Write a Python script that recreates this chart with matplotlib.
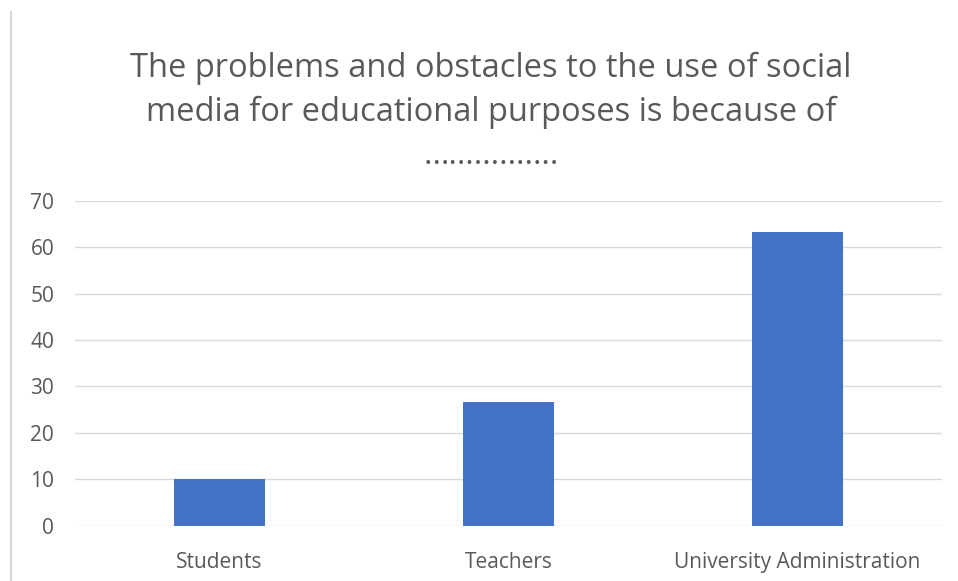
import matplotlib
matplotlib.use("Agg")
import matplotlib.pyplot as plt
from matplotlib.lines import Line2D

categories = ["Students", "Teachers", "University Administration"]
values = [10.0, 26.6, 63.3]
yticks = [0, 10, 20, 30, 40, 50, 60, 70]
title = ("The problems and obstacles to the use of social\n"
         "media for educational purposes is because of\n"
         "\u2026\u2026\u2026\u2026\u2026.")

plt.rcParams["font.family"] = ["Open Sans", "DejaVu Sans"]

fig = plt.figure(figsize=(9.58, 5.81), dpi=100)
ax = fig.add_axes([0.0783, 0.0955, 0.905, 0.5585])

x = list(range(len(categories)))
ax.bar(x, values, width=0.315, color="#4472C4", zorder=3)

ax.set_xlim(-0.5, len(categories) - 0.5)
ax.set_ylim(0, 70)
ax.set_yticks(yticks)
ax.set_xticks(x)
ax.set_xticklabels(categories)
ax.yaxis.grid(True, color="#D9D9D9", linewidth=1.0, zorder=0)
ax.set_axisbelow(True)
for s in ax.spines.values():
    s.set_visible(False)
ax.tick_params(axis="y", length=0, pad=15, labelsize=15, labelcolor="#595959")
ax.tick_params(axis="x", length=0, pad=19, labelsize=15, labelcolor="#595959")

fig.text(491 / 958, 1 - 52 / 581, title, ha="center", va="top",
         fontsize=23.5, color="#595959", linespacing=1.4)

# thin frame edge on the left
fig.add_artist(Line2D([11 / 958, 11 / 958], [0, 1 - 12 / 581],
                      color="#D9D9D9", linewidth=1.5, transform=fig.transFigure))

fig.savefig("out.png", dpi=100)
